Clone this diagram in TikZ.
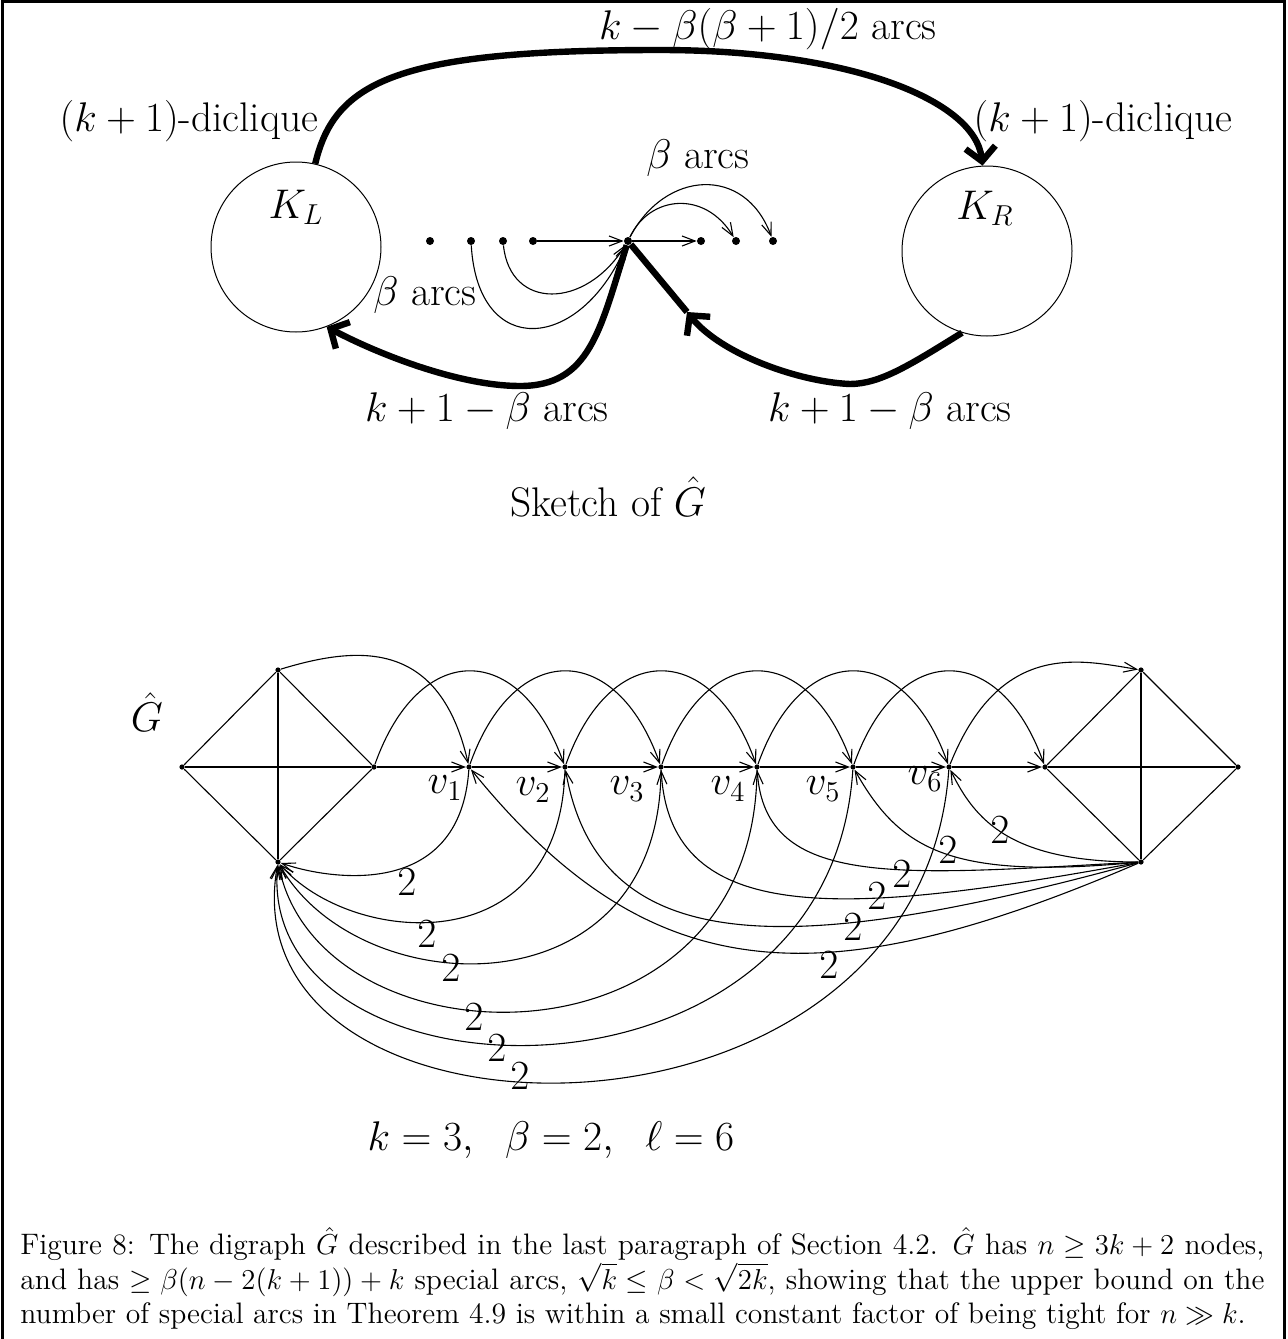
\documentclass[tikz,border=0pt]{standalone}
\usetikzlibrary{arrows.meta}
\tikzset{
  dot/.style={circle,fill,inner sep=0pt,minimum size=4pt},
  vx/.style={circle,fill,inner sep=0pt,minimum size=2.6pt},
  clique/.style={circle,draw,line width=0.5pt,inner sep=0pt,minimum size=85pt},
  edge/.style={line width=0.55pt},
  arr/.style={line width=0.55pt,-{Straight Barb[length=6.5pt,width=5pt]}},
  heavy/.style={line width=3.2pt,-{Straight Barb[length=7pt,width=15pt]}},
}
\begin{document}
\begin{tikzpicture}[x=0.5pt,y=-0.5pt,font=\fontsize{20.7}{24}\selectfont]
    \useasboundingbox (0,0) rectangle (1287,1339);
    \draw[line width=1.5pt] (2,1339) -- (2,1.5) -- (1284,1.5) -- (1284,1339);

    % sketch of G-hat
    \node[clique] (KL) at (296,247) {};
    \node[clique] (KR) at (987,251) {};
    \node (KLlab) at (296,207) {$K_L$};
    \node (KRlab) at (985,208) {$K_R$};
    \node (dicL) at (189,121) {$(k+1)$-diclique};
    \node (dicR) at (1103,121) {$(k+1)$-diclique};
    \node (toparcs) at (768,29) {$k-\beta(\beta+1)/2$ arcs};

    \node[dot] (d1) at (430,241) {};
    \node[dot] (d2) at (471,241) {};
    \node[dot] (d3) at (503,241) {};
    \node[dot] (d4) at (533,241) {};
    \node[dot] (c) at (628,241) {};
    \node[dot] (e1) at (701,241) {};
    \node[dot] (e2) at (736,241) {};
    \node[dot] (e3) at (773,241) {};
    \coordinate (tipR) at (687,312);

    \node (barcsU) at (698,158) {$\beta$ arcs};
    \node (barcsL) at (425,295) {$\beta$ arcs};
    \node (kbL) at (487,411) {$k+1-\beta$ arcs};
    \node (kbR) at (890,411) {$k+1-\beta$ arcs};
    \node (sketch) at (608,497) {Sketch of $\hat{G}$};

    \draw[arr] (d4) -- (c);
    \draw[arr] (c) -- (e1);
    \draw[arr] (c) .. controls (650,195) and (705,190) .. (e2);
    \draw[arr] (c) .. controls (665,170) and (745,165) .. (e3);
    \draw[arr] (d2) .. controls (478,360) and (580,352) .. (c);
    \draw[arr] (d3) .. controls (510,310) and (585,310) .. (c);

    \draw[heavy] (KL.77) .. controls (335,80) and (400,50) .. (660,50)
        .. controls (850,50) and (975,100) .. (KR.93);
    \draw[heavy] (c) .. controls (600,330) and (590,386) .. (520,386)
        .. controls (460,386) and (380,355) .. (KL.-69);
    \draw[heavy] (KR.-107) .. controls (910,365) and (880,384) .. (850,384)
        .. controls (800,382) and (722,355) .. (tipR);
    \draw[line width=3.2pt] (tipR) -- (c);

    % the digraph, k=3
    \node (Ghat) at (147,712) {$\hat{G}$};
    \node[vx] (al) at (182,767) {};
    \node[vx] (tl) at (278,670) {};
    \node[vx] (bl) at (278,862) {};
    \node[vx] (ml) at (374,767) {};
    \node[vx] (v1) at (469,767) {};
    \node[vx] (v2) at (565,767) {};
    \node[vx] (v3) at (661,767) {};
    \node[vx] (v4) at (757,767) {};
    \node[vx] (v5) at (853,767) {};
    \node[vx] (v6) at (949,767) {};
    \node[vx] (mr) at (1045,767) {};
    \node[vx] (tr) at (1141,670) {};
    \node[vx] (br) at (1141,862) {};
    \node[vx] (ar) at (1238,767) {};

    \node (v1lab) at (445,788) {$v_1$};
    \node (v2lab) at (533,790) {$v_2$};
    \node (v3lab) at (627,789) {$v_3$};
    \node (v4lab) at (728,789) {$v_4$};
    \node (v5lab) at (823,789) {$v_5$};
    \node (v6lab) at (925,779) {$v_6$};

    \draw[edge] (al) -- (tl);
    \draw[edge] (al) -- (bl);
    \draw[edge] (al) -- (ml);
    \draw[edge] (tl) -- (bl);
    \draw[edge] (tl) -- (ml);
    \draw[edge] (bl) -- (ml);
    \draw[edge] (mr) -- (tr);
    \draw[edge] (mr) -- (br);
    \draw[edge] (mr) -- (ar);
    \draw[edge] (tr) -- (br);
    \draw[edge] (tr) -- (ar);
    \draw[edge] (br) -- (ar);

    \draw[arr] (ml) -- (v1);
    \draw[arr] (v1) -- (v2);
    \draw[arr] (v2) -- (v3);
    \draw[arr] (v3) -- (v4);
    \draw[arr] (v4) -- (v5);
    \draw[arr] (v5) -- (v6);
    \draw[arr] (v6) -- (mr);

    \draw[arr] (tl) .. controls (360,645) and (440,640) .. (v1);
    \draw[arr] (ml) .. controls +(45,-127) and +(-45,-127) .. (v2);
    \draw[arr] (v1) .. controls +(45,-127) and +(-45,-127) .. (v3);
    \draw[arr] (v2) .. controls +(45,-127) and +(-45,-127) .. (v4);
    \draw[arr] (v3) .. controls +(45,-127) and +(-45,-127) .. (v5);
    \draw[arr] (v4) .. controls +(45,-127) and +(-45,-127) .. (v6);
    \draw[arr] (v5) .. controls +(45,-127) and +(-45,-127) .. (mr);
    \draw[arr] (v6) .. controls (1000,640) and (1080,660) .. (tr);

    \draw[arr] (v1) .. controls (460,900) and (330,880) .. (bl);
    \draw[arr] (v2) .. controls (560,965) and (350,945) .. (bl);
    \draw[arr] (v3) .. controls (660,1015) and (360,1005) .. (bl);
    \draw[arr] (v4) .. controls (755,1080) and (320,1070) .. (bl);
    \draw[arr] (v5) .. controls (830,1130) and (255,1110) .. (bl);
    \draw[arr] (v6) .. controls (920,1175) and (225,1165) .. (bl);

    \draw[arr] (br) .. controls (1010,862) and (975,820) .. (v6);
    \draw[arr] (br) .. controls (950,880) and (900,850) .. (v5);
    \draw[arr] (br) .. controls (900,875) and (765,890) .. (v4);
    \draw[arr] (br) .. controls (850,915) and (670,930) .. (v3);
    \draw[arr] (br) .. controls (800,955) and (600,965) .. (v2);
    \draw[arr] (br) .. controls (820,1000) and (650,990) .. (v1);

    \node (w1) at (407,882) {$2$};
    \node (w2) at (427,934) {$2$};
    \node (w3) at (451,968) {$2$};
    \node (w4) at (474,1017) {$2$};
    \node (w5) at (497,1048) {$2$};
    \node (w6) at (520,1076) {$2$};
    \node (u6) at (1000,830) {$2$};
    \node (u5) at (948,850) {$2$};
    \node (u4) at (902,874) {$2$};
    \node (u3) at (877,896) {$2$};
    \node (u2) at (853,927) {$2$};
    \node (u1) at (829,965) {$2$};

    \node (params) at (551,1140) {$k=3,\hspace{0.6em} \beta=2,\hspace{0.6em} \ell=6$};

    \node[anchor=north west,inner sep=0pt,text width=622pt,align=justify,
          font=\fontsize{14.8}{17.3}\selectfont] (caption) at (20,1227)
      {Figure 8: The digraph $\hat{G}$ described in the last paragraph of Section 4.2. $\hat{G}$ has $n\geq 3k+2$ nodes,\linebreak
       and has $\geq\beta(n-2(k+1))+k$ special arcs, $\sqrt{k}\leq\beta<\sqrt{2k}$, showing that the upper bound on the\linebreak
       number of special arcs in Theorem 4.9 is within a small constant factor of being tight for $n\gg k$.};
\end{tikzpicture}
\end{document}
